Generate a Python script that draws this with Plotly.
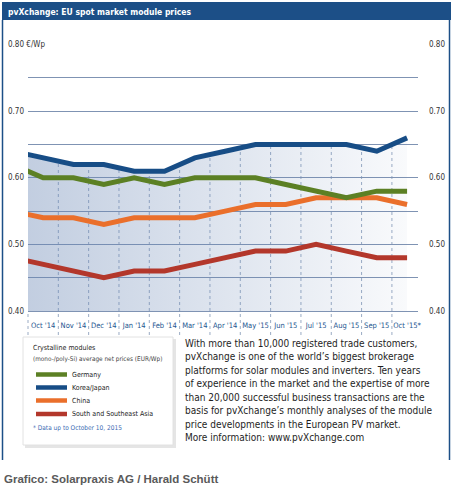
import plotly.graph_objects as go

# ---------------- data ----------------
months = ["Oct '14", "Nov '14", "Dec '14", "Jan '14", "Feb '14", "Mar '14", "Apr '14",
          "May '15", "Jun '15", "Jul '15", "Aug '15", "Sep '15", "Oct '15*"]
# value of the month before Oct '14 (lines enter from the left edge of the plot)
prev_month = "Sep '14"
germany_prev = 0.62
germany = [0.60, 0.60, 0.59, 0.60, 0.59, 0.60, 0.60, 0.60, 0.59, 0.58, 0.57, 0.58, 0.58]
korea_prev = 0.64
korea = [0.63, 0.62, 0.62, 0.61, 0.61, 0.63, 0.64, 0.65, 0.65, 0.65, 0.65, 0.64, 0.66]
china_prev = 0.55
china = [0.54, 0.54, 0.53, 0.54, 0.54, 0.54, 0.55, 0.56, 0.56, 0.57, 0.57, 0.57, 0.56]
asia_prev = 0.48
asia = [0.47, 0.46, 0.45, 0.46, 0.46, 0.47, 0.48, 0.49, 0.49, 0.50, 0.49, 0.48, 0.48]
series_names = ["Germany", "Korea/Japan", "China", "South and Southeast Asia"]
y_label_vals = [0.40, 0.50, 0.60, 0.70, 0.80]
unit = "€/Wp"
title = "pvXchange: EU spot market module prices"
legend_title = "Crystalline modules"
legend_sub = "(mono-/poly-Si) average net prices (EUR/Wp)"
footnote = "* Data up to October 10, 2015"
body_lines = [
    "With more than 10,000 registered trade customers,",
    "pvXchange is one of the world’s biggest brokerage",
    "platforms for solar modules and inverters. Ten years",
    "of experience in the market and the expertise of more",
    "than 20,000 successful business transactions are the",
    "basis for pvXchange’s monthly analyses of the module",
    "price developments in the European PV market.",
    "More information: www.pvXchange.com",
]
credit = "Grafico: Solarpraxis AG / Harald Schütt"

# ---------------- style ----------------
C_GER = "#5c8024"
C_KOR = "#174d86"
C_CHN = "#ea6f2b"
C_ASIA = "#b3372b"
C_HEAD = "#1c4f87"
C_GRID = "#7f93b3"
C_SEP = "#9aabc4"
NARROW = "DejaVu Sans Condensed, Liberation Sans, sans-serif"

W, H = 454, 503
L, R, T, B = 28, 418, 44, 311
XMIN, XMAX = -0.5, 12.36
YMIN, YMAX = 0.40, 0.80


def px(x):
    return (x - L) / (R - L)


def py(y):
    return (B - y) / (B - T)


def dx(v):
    return (v - XMIN) / (XMAX - XMIN)


def dy(v):
    return (v - YMIN) / (YMAX - YMIN)


xs = [-1] + list(range(len(months)))

fig = go.Figure()
fig.add_trace(go.Scatter(
    x=xs, y=[korea_prev] + korea, name=series_names[1], mode="lines",
    line=dict(color=C_KOR, width=5), fill="tozeroy",
    fillgradient=dict(type="horizontal",
                      colorscale=[[0, "rgba(105,134,180,0.42)"], [1, "rgba(105,134,180,0.04)"]]),
    showlegend=False))
fig.add_trace(go.Scatter(x=xs, y=[china_prev] + china, name=series_names[2], mode="lines",
                         line=dict(color=C_CHN, width=5), showlegend=False))
fig.add_trace(go.Scatter(x=xs, y=[germany_prev] + germany, name=series_names[0], mode="lines",
                         line=dict(color=C_GER, width=5), showlegend=False))
fig.add_trace(go.Scatter(x=xs, y=[asia_prev] + asia, name=series_names[3], mode="lines",
                         line=dict(color=C_ASIA, width=5), showlegend=False))

shapes = []
# dotted month separators (from below labels up to the Korea/Japan line)
sep_bottom = py(335)
shapes.append(dict(type="line", xref="paper", yref="paper", x0=dx(-0.5), x1=dx(-0.5),
                   y0=sep_bottom, y1=0, line=dict(color=C_SEP, width=1, dash="dot"), layer="below"))
for i in range(len(months) - 1):
    top = (korea[i] + korea[i + 1]) / 2
    shapes.append(dict(type="line", xref="paper", yref="paper", x0=dx(i + 0.5), x1=dx(i + 0.5),
                       y0=sep_bottom, y1=dy(top) - 0.008,
                       line=dict(color=C_SEP, width=1, dash="dot"), layer="below"))
# header bar and frame
shapes.append(dict(type="rect", xref="paper", yref="paper", x0=px(2), x1=px(451), y0=py(20), y1=py(2),
                   fillcolor=C_HEAD, line=dict(width=0)))
for xx in (2.5, 449.5):
    shapes.append(dict(type="line", xref="paper", yref="paper", x0=px(xx), x1=px(xx), y0=py(20), y1=py(460),
                       line=dict(color=C_HEAD, width=1.5)))
# legend box with shadow
shapes.append(dict(type="rect", xref="paper", yref="paper", x0=px(25), x1=px(176), y0=py(448), y1=py(339),
                   fillcolor="rgba(0,0,0,0.10)", line=dict(width=0)))
shapes.append(dict(type="rect", xref="paper", yref="paper", x0=px(23), x1=px(173), y0=py(445), y1=py(337),
                   fillcolor="white", line=dict(color="#e2e2e2", width=1)))
leg_colors = [C_GER, C_KOR, C_CHN, C_ASIA]
leg_rows = [374.5, 387.5, 400.5, 414]
for c, yy in zip(leg_colors, leg_rows):
    shapes.append(dict(type="line", xref="paper", yref="paper", x0=px(36), x1=px(67), y0=py(yy), y1=py(yy),
                       line=dict(color=c, width=4.5)))

ann = []
for v in y_label_vals:
    txt = f"{v:.2f}" + (f" {unit}" if v == YMAX else "")
    ann.append(dict(x=px(5), xref="paper", y=v, yref="y", text=txt, showarrow=False, xanchor="left",
                    yanchor="middle", font=dict(family=NARROW, size=8, color="#333"),
                    bgcolor="white" if v == YMAX else None, borderpad=2))
    ann.append(dict(x=px(427), xref="paper", y=v, yref="y", text=f"{v:.2f}", showarrow=False,
                    xanchor="left", yanchor="middle", font=dict(family=NARROW, size=8, color="#333")))
ann.append(dict(x=px(6), y=py(11.5), xref="paper", yref="paper", text=f"<b>{title}</b>", showarrow=False,
                xanchor="left", yanchor="middle", font=dict(family=NARROW, size=8.5, color="white")))
ann.append(dict(x=px(31), y=py(348), xref="paper", yref="paper", text=legend_title, showarrow=False,
                xanchor="left", yanchor="middle", font=dict(family=NARROW, size=7, color="#222")))
ann.append(dict(x=px(31), y=py(359.5), xref="paper", yref="paper", text=legend_sub, showarrow=False,
                xanchor="left", yanchor="middle", font=dict(family=NARROW, size=6.4, color="#444")))
for name, yy in zip(series_names, leg_rows):
    ann.append(dict(x=px(70), y=py(yy), xref="paper", yref="paper", text=name, showarrow=False,
                    xanchor="left", yanchor="middle", font=dict(family=NARROW, size=7, color="#222")))
ann.append(dict(x=px(31), y=py(428), xref="paper", yref="paper", text=footnote, showarrow=False,
                xanchor="left", yanchor="middle", font=dict(family=NARROW, size=6.5, color="#3c6cb4")))
for k, line in enumerate(body_lines):
    ann.append(dict(x=px(183), y=py(343 + 13.5 * k), xref="paper", yref="paper", text=line, showarrow=False,
                    xanchor="left", yanchor="middle", font=dict(family=NARROW, size=10, color="#1e1e1e")))
ann.append(dict(x=px(2), y=py(479), xref="paper", yref="paper", text=f"<b>{credit}</b>", showarrow=False,
                xanchor="left", yanchor="middle",
                font=dict(family="Liberation Sans, Arial, sans-serif", size=11.5, color="#5a5a5a")))

fig.update_layout(
    width=W, height=H, autosize=False,
    margin=dict(l=L, r=W - R, t=T, b=H - B),
    paper_bgcolor="white", plot_bgcolor="white",
    shapes=shapes, annotations=ann,
    xaxis=dict(range=[XMIN, XMAX], tickvals=list(range(len(months))), ticktext=months,
               showgrid=False, zeroline=False, showline=True, linecolor=C_GRID, linewidth=1,
               ticks="", ticklabelstandoff=7, tickangle=0,
               tickfont=dict(family=NARROW, size=7.5, color="#24558f")),
    yaxis=dict(range=[YMIN, YMAX + 0.001], tick0=0.40, dtick=0.05, showticklabels=False,
               showgrid=True, gridcolor=C_GRID, gridwidth=1, zeroline=False, ticks=""),
)

fig.write_html("out.html")
